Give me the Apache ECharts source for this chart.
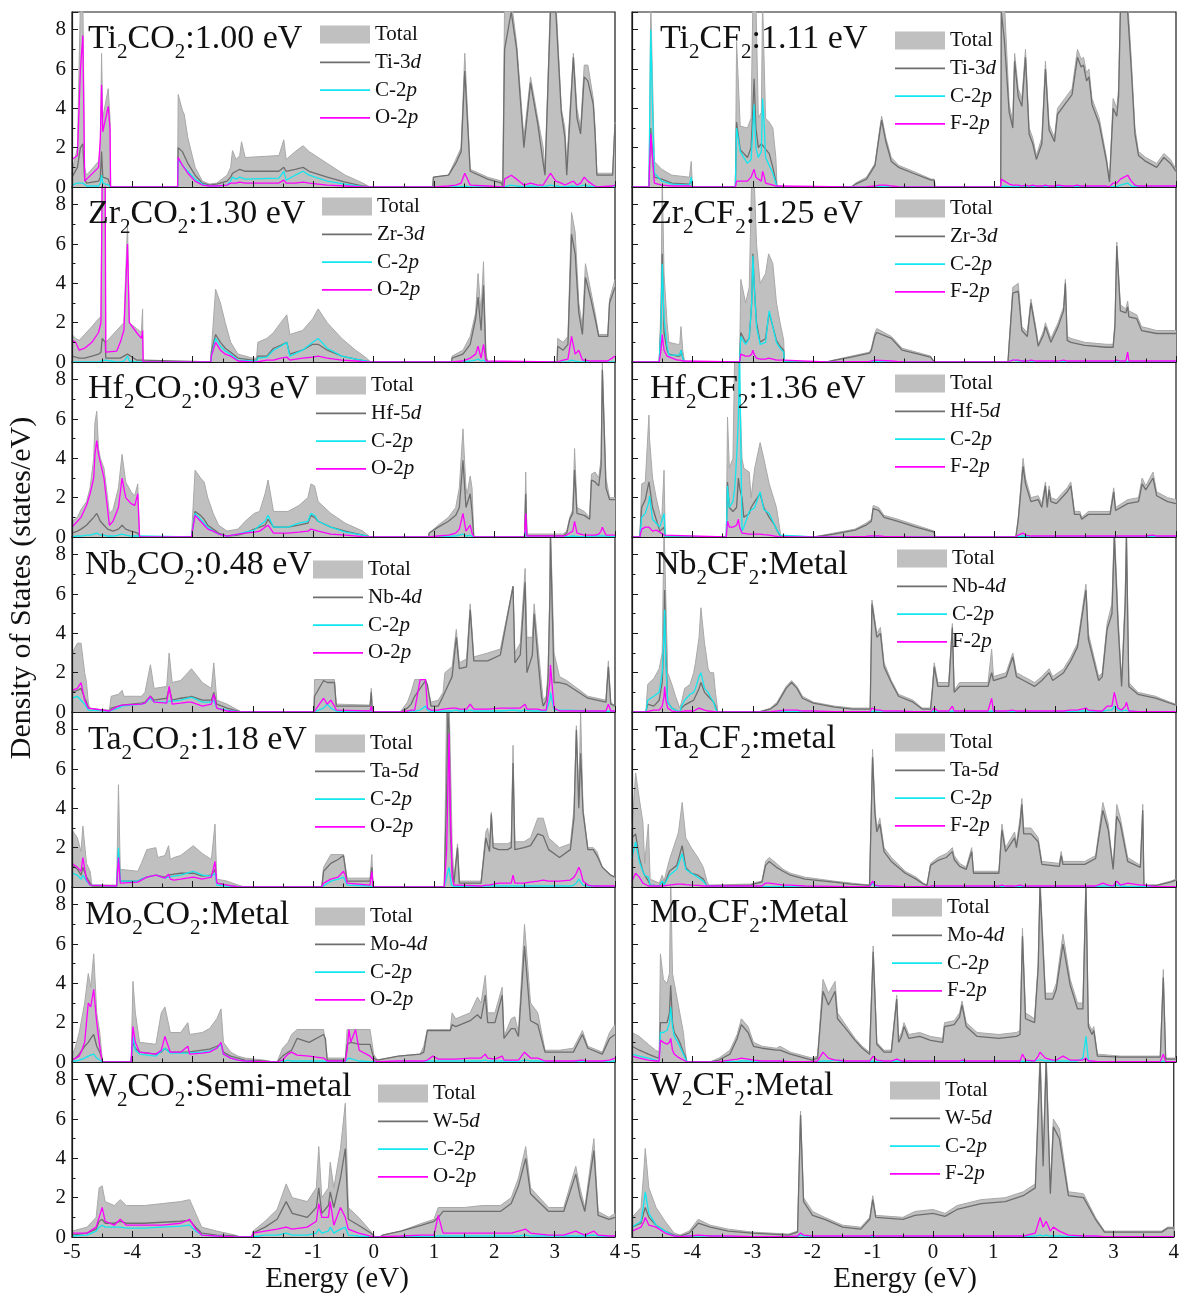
<!DOCTYPE html>
<html><head><meta charset="utf-8">
<script src="https://cdn.jsdelivr.net/npm/echarts@6/dist/echarts.min.js"></script>
<style>html,body{margin:0;padding:0;background:#fff}#c{width:1182px;height:1294px}</style>
</head><body><div id="c"></div>
<script>
// Each row: [energy (eV), Total, metal-d, C-2p, O-2p / F-2p]
const TI2CO2 = [
[-5.00,0.8,0.5,0.1,1.4],[-4.91,2.0,1.0,0.2,1.6],[-4.86,9.5,2.0,0.2,6.0],[-4.82,9.5,2.2,0.2,7.7],[-4.79,1.0,0.4,0.1,0.3],
[-4.76,0.6,0.2,0.05,0.4],[-4.56,1.3,0.3,0.05,1.0],[-4.53,2.0,0.5,0.2,2.5],[-4.51,6.8,1.8,0.6,5.2],[-4.49,3.5,0.5,0.2,2.8],
[-4.47,3.6,0.4,0.1,2.9],[-4.40,5.0,0.4,0.1,4.1],[-4.37,3.5,0.3,0.1,3.0],[-4.36,0,0,0,0],[-3.25,0,0,0,0],
[-3.24,4.7,2.0,1.4,1.5],[-3.17,3.9,1.8,1.1,1.1],[-3.14,3.7,1.6,1.0,1.0],[-3.08,2.5,1.2,0.8,0.7],[-2.96,1.0,0.6,0.4,0.3],
[-2.84,0.3,0.2,0.15,0.1],[-2.72,0.15,0.1,0.05,0.05],[-2.60,0.2,0.15,0.05,0.05],[-2.43,0.6,0.3,0.1,0.1],[-2.37,1.0,0.5,0.3,0.2],
[-2.34,1.85,0.7,0.5,0.3],[-2.28,1.4,0.8,0.4,0.2],[-2.22,1.6,0.9,0.5,0.25],[-2.19,2.3,1.0,0.6,0.3],[-2.13,1.5,0.8,0.4,0.2],
[-1.57,1.6,0.8,0.45,0.2],[-1.49,2.4,1.0,0.8,0.35],[-1.45,1.4,0.8,0.35,0.2],[-1.30,1.8,0.9,0.6,0.2],[-1.17,2.1,1.0,0.8,0.25],
[-1.07,1.8,0.8,0.6,0.2],[-0.77,1.2,0.5,0.3,0.1],[-0.47,0.6,0.25,0.15,0.05],[-0.18,0.2,0.05,0.02,0],[-0.06,0,0,0,0],
[0.98,0,0,0,0],[0.99,0.5,0.5,0,0.05],[1.24,0.6,0.6,0,0.05],[1.36,1.4,1.2,0.02,0.1],[1.45,2.0,1.8,0.02,0.2],
[1.51,6.8,5.9,0.05,0.7],[1.60,0.9,0.8,0,0.1],[1.89,0.5,0.4,0,0.05],[2.12,0.3,0.2,0,0],[2.14,0,0,0,0],
[2.16,0,0,0,0],[2.17,9.5,7.0,0.05,0.4],[2.28,9.5,8.9,0.1,0.6],[2.37,7.3,7.0,0.05,0.4],[2.49,2.5,2.0,0.02,0.1],
[2.60,5.6,5.3,0.05,0.2],[2.72,3.5,3.2,0.02,0.1],[2.81,2.0,1.2,0,0.1],[2.84,0.8,0.6,0,0.05],[2.93,9.5,8.9,0.1,0.7],
[3.02,9.5,8.9,0.05,0.3],[3.11,4.0,3.8,0.02,0.2],[3.17,3.0,2.5,0.02,0.1],[3.20,1.2,0.6,0,0.05],[3.31,6.8,6.6,0.05,0.3],
[3.37,4.0,3.5,0.02,0.1],[3.43,3.0,2.7,0.05,0.2],[3.49,6.2,5.6,0.1,0.5],[3.55,6.2,5.4,0.05,0.3],[3.64,4.5,4.2,0.02,0.1],
[3.67,3.0,2.7,0.02,0.05],[3.70,0.7,0.6,0,0],[3.96,0.7,0.6,0,0.05],[4.00,3.3,3.2,0,0.1]];

const TI2CF2 = [
[-5.00,0,0,0,0],[-4.72,0,0,0,0],[-4.71,3.0,1.0,2.5,1.0],[-4.69,9.5,3.0,8.0,2.7],[-4.66,9.5,1.5,4.0,1.5],
[-4.63,1.3,0.5,0.7,0.2],[-4.51,0.9,0.4,0.3,0.1],[-4.34,0.6,0.2,0.15,0.05],[-4.05,0.5,0.15,0.1,0.05],[-4.02,1.3,0.3,0.5,0.1],
[-4.00,0,0,0,0],[-3.29,0,0,0,0],[-3.27,7.4,3.3,3.0,0.3],[-3.21,3.1,1.9,1.8,0.3],[-3.09,3.0,1.5,1.2,0.3],
[-3.03,3.5,2.0,1.4,0.5],[-3.00,9.5,4.0,3.0,0.6],[-2.98,9.5,5.5,4.2,0.9],[-2.95,9.5,3.0,2.0,0.5],[-2.91,3.5,2.0,1.5,0.4],
[-2.86,3.8,2.2,1.8,0.3],[-2.84,9.5,2.3,4.5,0.8],[-2.81,9.5,2.0,3.0,0.5],[-2.79,3.5,1.9,1.5,0.2],[-2.73,3.3,1.7,1.1,0.15],
[-2.67,3.0,1.0,0.7,0.1],[-2.62,1.5,0.3,0.2,0.05],[-2.60,0,0,0,0],[-1.37,0,0,0,0],[-1.30,0.2,0.15,0,0],
[-1.12,0.5,0.4,0,0.02],[-0.98,1.2,1.1,0.02,0.05],[-0.90,3.0,2.8,0.02,0.1],[-0.87,3.6,3.4,0.02,0.15],[-0.80,2.5,2.3,0.02,0.1],
[-0.71,1.5,1.3,0,0.05],[-0.59,1.1,1.0,0,0.02],[-0.35,0.8,0.7,0,0],[-0.05,0.4,0.35,0,0],[0.00,0.4,0.35,0,0],
[0.01,0,0,0,0],[1.10,0,0,0,0],[1.11,9.5,8.9,0.05,0.4],[1.16,9.5,7.5,0.05,0.3],[1.24,4.2,3.8,0.02,0.15],
[1.30,3.3,3.0,0.02,0.1],[1.33,6.8,6.4,0.05,0.1],[1.39,5.0,4.6,0.02,0.1],[1.45,4.5,4.1,0.02,0.05],[1.51,7.0,6.6,0.05,0.1],
[1.57,3.0,2.7,0.02,0.05],[1.63,2.5,2.2,0.02,0.1],[1.69,1.6,1.4,0.02,0.05],[1.78,2.5,2.2,0.02,0.05],[1.84,6.4,6.0,0.05,0.1],
[1.90,3.2,2.9,0.02,0.05],[1.99,2.5,2.3,0.02,0.05],[2.04,4.0,3.7,0.02,0.1],[2.16,4.5,4.2,0.02,0.05],[2.28,5.0,4.7,0.02,0.05],
[2.37,7.0,6.6,0.02,0.1],[2.43,6.5,6.1,0.02,0.05],[2.47,6.6,6.2,0.02,0.05],[2.52,5.8,5.4,0.02,0.05],[2.56,6.0,5.6,0.02,0.05],
[2.61,4.5,4.2,0.02,0.05],[2.73,3.5,3.2,0.02,0.05],[2.85,1.5,1.3,0.02,0.05],[2.90,0.3,0.25,0,0.02],[2.96,4.5,4.0,0.02,0.2],
[3.02,4.0,3.6,0.02,0.2],[3.05,5.0,4.6,0.05,0.3],[3.08,9.5,8.9,0.1,0.4],[3.20,9.5,8.9,0.2,0.6],[3.26,6.5,6.0,0.05,0.3],
[3.32,3.0,2.7,0.02,0.1],[3.38,1.8,1.6,0.02,0.05],[3.50,1.5,1.3,0.02,0.05],[3.68,1.2,1.0,0,0.05],[3.80,1.7,1.5,0,0.05],
[3.91,1.4,1.2,0,0.05],[4.00,0.9,0.8,0,0.05]];

const ZR2CO2 = [
[-5.00,1.4,0.3,0,1.1],[-4.94,1.2,0.25,0,1.0],[-4.88,1.1,0.2,0,0.6],[-4.79,1.4,0.2,0,0.7],[-4.67,1.8,0.3,0,1.0],
[-4.56,2.2,0.4,0,1.5],[-4.52,2.3,0.5,0.05,2.0],[-4.50,9.5,1.2,0.1,9.5],[-4.45,9.5,1.0,0.1,9.5],[-4.44,1.0,0.2,0,0.5],
[-4.26,1.6,0.2,0,0.55],[-4.20,1.8,0.2,0,1.0],[-4.14,2.0,0.3,0.05,1.6],[-4.08,7.0,0.4,0.3,6.0],[-4.05,2.0,0.3,0.05,2.0],
[-3.93,1.7,0.1,0,1.5],[-3.85,1.5,0.1,0,1.2],[-3.83,2.7,0.15,0,1.6],[-3.82,0,0,0,0],[-2.70,0,0,0,0],
[-2.69,0.6,0.5,0.3,0.3],[-2.62,3.7,1.4,1.2,1.0],[-2.54,3.0,1.0,0.8,0.6],[-2.46,2.0,0.7,0.55,0.4],[-2.37,1.0,0.5,0.4,0.3],
[-2.25,0.4,0.2,0.1,0.05],[-2.01,0.2,0.1,0.05,0],[-1.94,0.2,0.1,0.05,0],[-1.92,1.0,0.3,0.2,0.1],[-1.77,1.2,0.3,0.25,0.1],
[-1.66,1.5,0.7,0.6,0.1],[-1.54,2.0,0.85,0.8,0.2],[-1.44,2.4,1.0,1.0,0.25],[-1.39,1.4,0.4,0.3,0.1],[-1.18,1.6,0.6,0.6,0.2],
[-1.01,2.2,0.9,1.0,0.25],[-0.92,2.7,0.9,1.2,0.3],[-0.77,2.0,0.6,0.7,0.2],[-0.53,1.2,0.3,0.3,0.1],[-0.30,0.6,0.15,0.15,0.05],
[-0.12,0.2,0.05,0.05,0],[-0.05,0,0,0,0],[1.29,0,0,0,0],[1.30,0.3,0.2,0,0],[1.48,0.6,0.4,0.02,0.05],
[1.60,1.3,0.9,0.05,0.2],[1.69,2.5,2.2,0.1,0.4],[1.73,4.5,3.3,0.15,0.8],[1.78,2.5,1.6,0.05,0.2],[1.82,5.1,3.9,0.1,0.9],
[1.86,0.5,0.2,0,0.05],[1.89,0,0,0,0],[3.04,0,0,0,0],[3.05,1.2,0.8,0,0.1],[3.14,1.0,0.6,0,0.1],
[3.22,1.3,0.9,0.02,0.15],[3.28,7.6,6.5,0.1,1.3],[3.34,6.6,5.5,0.05,0.4],[3.40,3.0,2.5,0.02,0.6],[3.46,1.8,1.4,0,0.1],
[3.51,5.0,4.3,0.02,0.1],[3.60,3.6,3.2,0,0.05],[3.67,2.5,2.2,0,0.05],[3.73,1.4,1.3,0,0.05],[3.88,1.4,1.3,0,0.05],
[3.91,3.2,3.0,0,0.1],[4.00,4.2,3.8,0,0.3]];

const ZR2CF2 = [
[-5.00,0,0,0,0],[-4.55,0,0,0,0],[-4.52,3.0,2.0,1.8,0.6],[-4.50,9.5,5.5,5.0,1.4],[-4.47,4.5,1.5,2.2,0.6],
[-4.42,2.0,0.6,0.8,0.3],[-4.39,1.0,0.4,0.35,0.2],[-4.25,0.9,0.3,0.35,0.1],[-4.21,0.9,0.3,0.35,0.1],[-4.19,1.8,0.6,0.6,0.2],
[-4.16,0.6,0.2,0.2,0.05],[-4.13,0,0,0,0],[-3.22,0,0,0,0],[-3.20,4.2,1.5,1.3,0.4],[-3.12,3.0,1.0,0.9,0.3],
[-3.06,3.8,1.2,1.2,0.3],[-3.02,9.5,3.0,3.0,0.4],[-3.00,9.5,5.5,5.4,0.6],[-2.98,9.5,4.0,4.0,0.4],[-2.94,6.0,2.0,1.8,0.2],
[-2.88,4.0,1.0,0.9,0.15],[-2.85,4.0,1.0,0.9,0.15],[-2.79,4.5,1.2,1.0,0.15],[-2.74,5.5,2.3,2.4,0.2],[-2.73,5.4,2.5,2.6,0.2],
[-2.67,5.0,1.8,1.8,0.15],[-2.61,3.0,1.1,1.0,0.1],[-2.55,2.0,0.8,0.7,0.1],[-2.49,1.1,0.6,0.5,0.1],[-2.48,0,0,0,0],
[-1.78,0,0,0,0],[-1.66,0.1,0.08,0,0],[-1.37,0.3,0.25,0,0.02],[-1.07,0.5,0.45,0,0.03],[-1.04,0.7,0.6,0.02,0.05],
[-0.98,1.5,1.35,0.05,0.1],[-0.95,1.7,1.5,0.05,0.1],[-0.71,1.3,1.2,0.02,0.05],[-0.62,1.0,0.9,0.02,0.03],[-0.53,0.7,0.6,0,0.02],
[-0.06,0.3,0.25,0,0],[0.00,0,0,0,0],[1.22,0,0,0,0],[1.24,1.0,0.9,0.05,0.05],[1.30,3.8,3.5,0.1,0.1],
[1.39,4.0,3.6,0.05,0.1],[1.45,1.8,1.6,0.05,0.05],[1.54,1.5,1.3,0.05,0.05],[1.60,3.2,3.0,0.05,0.1],[1.69,1.6,1.4,0.02,0.05],
[1.72,0.9,0.8,0.02,0.05],[1.81,1.6,1.4,0.02,0.05],[1.84,2.0,1.8,0.02,0.05],[1.93,1.2,1.0,0.02,0.05],[2.05,2.0,1.8,0.02,0.05],
[2.14,2.8,2.6,0.02,0.1],[2.17,4.2,4.0,0.05,0.15],[2.20,1.3,1.1,0.02,0.05],[2.26,1.2,1.0,0.02,0.05],[2.49,1.0,0.85,0.02,0.05],
[2.85,0.9,0.75,0.02,0.05],[2.96,0.9,0.75,0.02,0.05],[2.99,2.0,1.8,0.02,0.05],[3.02,6.1,5.9,0.05,0.1],[3.08,2.9,2.6,0.02,0.05],
[3.17,2.7,2.5,0.02,0.05],[3.20,3.1,2.8,0.02,0.5],[3.22,2.6,2.3,0.02,0.05],[3.35,2.4,2.2,0.02,0.05],[3.43,1.8,1.6,0.02,0.05],
[3.68,1.6,1.45,0.02,0.05],[4.00,1.6,1.45,0.02,0.05]];

const HF2CO2 = [
[-5.00,0.8,0.2,0.02,0.5],[-4.91,1.0,0.3,0.05,0.8],[-4.85,1.4,0.4,0.05,1.0],[-4.76,1.8,0.6,0.1,1.6],[-4.70,2.5,0.8,0.1,2.2],
[-4.64,4.0,1.0,0.15,3.0],[-4.62,5.8,1.1,0.2,4.2],[-4.59,6.4,1.2,0.2,4.9],[-4.56,4.5,1.0,0.15,4.2],[-4.53,4.0,0.8,0.1,3.8],
[-4.47,3.5,0.6,0.1,3.0],[-4.41,2.0,0.4,0.05,1.4],[-4.38,1.2,0.3,0.05,0.6],[-4.32,1.4,0.3,0.05,0.8],[-4.23,2.5,0.4,0.1,1.5],
[-4.17,4.2,0.6,0.15,3.0],[-4.11,2.8,0.4,0.1,2.0],[-4.02,2.3,0.3,0.05,1.7],[-3.96,2.1,0.25,0.05,1.6],[-3.91,2.7,0.2,0.05,2.2],
[-3.88,0,0,0,0],[-3.02,0,0,0,0],[-2.96,3.4,1.3,1.2,1.1],[-2.87,3.0,1.1,0.9,0.8],[-2.81,2.8,0.9,0.7,0.6],
[-2.75,2.0,0.6,0.5,0.4],[-2.66,1.2,0.4,0.3,0.3],[-2.57,0.6,0.2,0.15,0.15],[-2.43,0.3,0.05,0.05,0.05],[-2.25,0.4,0.1,0.15,0.15],
[-2.13,0.8,0.2,0.25,0.2],[-1.98,1.2,0.4,0.35,0.25],[-1.89,1.3,0.5,0.6,0.3],[-1.80,2.2,0.6,0.8,0.5],[-1.75,2.9,0.9,1.1,0.6],
[-1.66,1.3,0.5,0.5,0.2],[-1.42,1.3,0.5,0.5,0.2],[-1.24,1.6,0.6,0.7,0.25],[-1.09,2.0,0.7,0.8,0.3],[-1.04,2.7,1.1,1.2,0.4],
[-0.98,2.6,1.0,1.1,0.35],[-0.92,1.8,0.8,0.8,0.3],[-0.71,1.2,0.5,0.5,0.15],[-0.47,0.7,0.3,0.25,0.1],[-0.18,0.3,0.1,0.1,0.02],
[-0.06,0,0,0,0],[0.91,0,0,0,0],[0.92,0.2,0.2,0,0],[1.07,0.6,0.5,0.02,0.05],[1.24,1.0,0.8,0.03,0.1],
[1.36,1.5,1.1,0.05,0.2],[1.42,2.5,1.5,0.1,0.4],[1.48,5.5,3.9,0.15,1.2],[1.53,2.5,1.5,0.05,0.3],[1.55,2.2,1.6,0.05,0.3],
[1.60,3.1,2.2,0.08,0.6],[1.63,2.5,1.3,0.03,0.2],[1.66,0,0,0,0],[2.50,0,0,0,0],[2.52,3.3,2.2,0.3,1.2],
[2.54,0.15,0.05,0.02,0.05],[3.14,0.15,0.05,0.02,0.05],[3.20,0.3,0.2,0.02,0.1],[3.25,1.0,0.9,0.03,0.2],[3.30,1.4,1.2,0.05,0.3],
[3.33,4.5,3.4,0.1,0.8],[3.37,1.5,1.2,0.03,0.2],[3.49,1.3,1.1,0.02,0.1],[3.58,1.0,0.9,0.02,0.1],[3.61,3.2,2.9,0.05,0.1],
[3.67,3.3,2.8,0.05,0.1],[3.73,3.0,2.6,0.05,0.15],[3.77,4.0,3.6,0.05,0.3],[3.79,8.9,8.5,0.1,0.5],[3.85,3.0,2.5,0.05,0.1],
[3.91,2.0,1.9,0.02,0.1],[4.00,2.0,1.9,0.02,0.1]];

const HF2CF2 = [
[-5.00,0,0,0,0],[-4.87,0,0,0,0],[-4.84,2.7,1.5,1.0,0.4],[-4.78,2.8,1.9,1.2,0.5],[-4.72,6.2,2.8,1.8,0.5],
[-4.71,5.0,2.6,2.1,0.6],[-4.66,3.0,1.5,0.9,0.3],[-4.60,2.0,0.9,0.7,0.35],[-4.54,1.2,0.3,0.5,0.25],[-4.51,0.8,0.3,0.4,0.2],
[-4.47,3.4,0.5,1.2,0.1],[-4.45,0,0,0,0],[-3.44,0,0,0,0],[-3.42,6.1,2.8,2.6,0.8],[-3.39,3.5,1.5,1.5,0.5],
[-3.33,4.0,1.3,1.8,0.5],[-3.30,9.5,1.4,2.5,0.5],[-3.27,9.5,1.5,4.0,0.6],[-3.24,9.5,3.0,6.0,0.9],[-3.22,9.5,2.5,9.5,0.5],
[-3.18,4.0,2.0,0.3,0.2],[-3.15,3.5,1.0,0.5,0.15],[-3.06,3.3,1.2,1.3,0.15],[-3.03,2.0,1.5,1.4,0.15],[-2.97,3.5,1.8,1.5,0.15],
[-2.88,4.8,2.2,2.3,0.15],[-2.82,4.0,1.5,1.4,0.12],[-2.73,2.7,1.0,1.2,0.1],[-2.64,1.8,0.6,0.6,0.05],[-2.61,1.5,0.4,0.4,0.05],
[-2.55,0.3,0.05,0.1,0],[-2.54,0,0,0,0],[-1.99,0,0,0,0],[-1.98,0.1,0.08,0,0],[-1.66,0.2,0.15,0,0],
[-1.31,0.4,0.35,0,0.02],[-1.13,0.7,0.6,0,0.03],[-1.04,0.9,0.8,0.02,0.05],[-1.01,1.6,1.45,0.02,0.05],[-0.92,1.5,1.35,0.02,0.05],
[-0.83,1.1,1.0,0,0.03],[-0.60,0.9,0.8,0,0.02],[-0.30,0.6,0.5,0,0],[0.00,0.3,0.25,0,0],[0.01,0,0,0,0],
[1.35,0,0,0,0],[1.39,1.0,0.85,0.02,0.1],[1.47,4.0,3.6,0.05,0.2],[1.51,3.0,2.7,0.03,0.1],[1.60,2.0,1.8,0.02,0.05],
[1.72,2.1,1.9,0.02,0.05],[1.78,1.7,1.5,0.02,0.05],[1.84,2.8,2.6,0.02,0.05],[1.87,1.7,1.5,0.02,0.05],[1.90,2.6,2.4,0.02,0.05],
[1.93,2.0,1.8,0.02,0.05],[2.02,1.9,1.7,0.02,0.05],[2.14,2.3,2.1,0.02,0.05],[2.20,2.5,2.3,0.02,0.05],[2.26,2.8,2.6,0.02,0.05],
[2.32,1.3,1.15,0.02,0.05],[2.41,1.3,1.15,0.02,0.05],[2.44,1.0,0.9,0.02,0.05],[2.55,1.3,1.15,0.02,0.05],[2.91,1.3,1.15,0.02,0.05],
[2.97,2.5,2.3,0.02,0.05],[3.00,1.5,1.35,0.02,0.05],[3.20,1.9,1.7,0.02,0.05],[3.38,2.0,1.8,0.02,0.05],[3.44,3.0,2.7,0.02,0.05],
[3.50,2.6,2.4,0.02,0.05],[3.62,3.3,3.0,0.02,0.1],[3.68,2.3,2.1,0.02,0.05],[3.86,2.0,1.8,0.02,0.05],[4.00,1.9,1.7,0.02,0.05]];

const NB2CO2 = [
[-5.00,3.0,1.0,0.7,1.1],[-4.91,3.5,1.1,0.8,1.2],[-4.85,3.5,1.2,0.6,1.5],[-4.79,2.0,0.7,0.4,0.6],[-4.76,1.5,0.5,0.3,0.4],
[-4.73,0.5,0.2,0.1,0.2],[-4.70,0.1,0.1,0.05,0.1],[-4.38,0.1,0.05,0.05,0.05],[-4.35,0.8,0.2,0.1,0.1],[-4.23,0.9,0.3,0.2,0.3],
[-4.17,1.1,0.35,0.3,0.35],[-4.14,0.8,0.4,0.3,0.3],[-3.85,0.8,0.45,0.4,0.4],[-3.79,1.0,0.5,0.45,0.45],[-3.70,2.4,0.8,0.7,0.8],
[-3.64,1.2,0.6,0.5,0.5],[-3.43,1.3,0.7,0.5,0.45],[-3.39,3.0,1.2,0.55,1.3],[-3.34,1.5,0.6,0.55,0.4],[-3.20,1.6,0.7,0.6,0.45],
[-3.08,2.0,0.75,0.7,0.5],[-3.02,2.2,0.8,0.75,0.5],[-2.84,1.5,0.6,0.5,0.3],[-2.69,1.2,0.6,0.5,0.4],[-2.65,2.5,1.0,0.6,0.9],
[-2.60,0.6,0.4,0.2,0.2],[-2.43,0.4,0.2,0.1,0.05],[-2.25,0.1,0.05,0.02,0],[-2.19,0,0,0,0],[-0.99,0,0,0,0],
[-0.98,1.65,0.8,0.05,0.05],[-0.83,1.65,1.6,0.2,0.7],[-0.77,1.65,1.5,0.4,0.4],[-0.71,1.65,1.5,0.2,0.6],[-0.65,1.65,1.5,0.1,0.3],
[-0.62,0.4,0.3,0.05,0.1],[-0.59,0.35,0.3,0.02,0.05],[-0.06,0.35,0.3,0.02,0.05],[-0.04,1.2,1.0,0.05,0.3],[-0.02,0,0,0,0],
[0.44,0,0,0,0],[0.56,0.5,0.2,0.02,0.05],[0.62,1.0,0.4,0.05,0.1],[0.68,1.65,0.8,0.05,0.1],[0.77,1.65,1.2,0.1,1.65],
[0.86,1.65,1.6,0.3,1.65],[0.89,1.65,1.4,0.1,0.2],[0.95,0.5,0.3,0.02,0.1],[0.98,0.4,0.3,0.02,0.1],[1.07,0.6,0.3,0.02,0.1],
[1.15,1.0,0.8,0.05,0.15],[1.18,2.0,1.0,0.05,0.2],[1.30,2.3,1.8,0.05,0.2],[1.37,4.2,3.8,0.1,0.2],[1.42,2.5,2.2,0.05,0.15],
[1.54,2.7,2.3,0.05,0.15],[1.60,5.5,5.2,0.1,0.4],[1.66,2.8,2.6,0.05,0.15],[1.89,3.0,2.6,0.05,0.15],[2.10,3.2,2.9,0.05,0.2],
[2.31,6.4,6.4,0.1,0.2],[2.34,3.0,2.5,0.05,0.15],[2.43,3.5,2.9,0.05,0.2],[2.51,7.3,6.6,0.1,0.4],[2.54,3.8,2.0,0.05,0.15],
[2.63,3.8,2.9,0.05,0.15],[2.66,5.5,5.0,0.05,0.2],[2.72,3.5,2.8,0.05,0.15],[2.78,1.5,0.8,0.05,0.1],[2.81,0.6,0.3,0.05,0.1],
[2.86,0.8,0.6,0.05,0.1],[2.89,2.0,1.6,0.1,0.2],[2.92,6.0,5.8,0.6,1.5],[2.93,9.5,8.9,1.0,2.4],[2.99,3.0,1.5,0.1,0.2],
[3.08,1.8,1.5,0.1,0.05],[3.20,1.6,1.4,0.1,0.05],[3.55,0.8,0.7,0.05,0.05],[3.85,0.6,0.5,0.02,0.05],[3.89,2.6,2.3,0.05,0.4],
[3.93,0.5,0.4,0.02,0.05],[4.00,0.3,0.3,0.02,0.05]];

const NB2CF2 = [
[-5.00,0,0,0,0],[-4.77,0,0,0,0],[-4.74,1.4,0.4,0.6,0.1],[-4.64,1.7,0.3,0.8,0.1],[-4.55,2.2,0.6,1.0,0.1],
[-4.50,3.0,1.5,2.0,0.3],[-4.47,9.5,4.0,4.0,0.8],[-4.46,9.5,6.2,5.2,1.3],[-4.44,9.5,3.0,2.5,0.6],[-4.41,2.0,0.5,0.5,0.2],
[-4.34,1.4,0.2,0.2,0.05],[-4.28,0.8,0.1,0.1,0.02],[-4.21,0.2,0,0,0],[-4.18,0.5,0.2,0.3,0.02],[-4.13,1.2,0.35,0.6,0.05],
[-4.04,1.4,0.5,0.9,0.05],[-3.98,2.0,0.6,1.0,0.05],[-3.95,2.5,0.7,1.2,0.1],[-3.89,3.8,1.2,1.8,0.2],[-3.86,5.3,1.5,2.0,0.3],
[-3.80,3.5,1.0,1.2,0.1],[-3.74,2.2,0.8,1.0,0.05],[-3.71,2.0,0.7,0.8,0.05],[-3.65,2.0,0.5,0.5,0.02],[-3.62,1.0,0.3,0.2,0],
[-3.59,0.3,0,0,0],[-3.58,0,0,0,0],[-2.90,0,0,0,0],[-2.89,0.1,0.08,0,0],[-2.71,0.2,0.15,0,0.02],
[-2.60,0.5,0.4,0.02,0.05],[-2.45,1.3,1.2,0.02,0.1],[-2.36,1.6,1.5,0.02,0.1],[-2.27,1.3,1.2,0.02,0.1],[-2.18,0.8,0.7,0.02,0.05],
[-2.00,0.5,0.45,0,0.05],[-1.65,0.3,0.25,0,0.02],[-1.35,0.2,0.15,0,0.02],[-1.06,0.2,0.15,0,0.02],[-1.03,5.7,5.5,0.1,0.2],
[-0.95,4.0,3.8,0.05,0.1],[-0.89,4.3,4.0,0.05,0.1],[-0.83,2.5,2.3,0.02,0.05],[-0.71,1.6,1.5,0.02,0.05],[-0.59,0.9,0.8,0.02,0.05],
[-0.35,0.6,0.5,0,0.02],[-0.20,0.2,0.15,0,0.02],[-0.06,0.2,0.15,0,0.02],[-0.03,1.3,1.1,0.02,0.05],[0.00,2.5,2.3,0.05,0.2],
[0.06,1.5,1.3,0.02,0.05],[0.24,1.5,1.3,0.02,0.05],[0.30,4.5,4.3,0.05,0.3],[0.33,1.1,1.0,0.02,0.05],[0.42,1.5,1.3,0.02,0.05],
[0.89,1.5,1.3,0.02,0.05],[0.95,3.2,2.0,0.05,0.7],[0.98,1.8,1.6,0.02,0.05],[1.19,2.0,1.8,0.02,0.05],[1.30,3.0,2.8,0.02,0.1],
[1.36,2.0,1.8,0.02,0.05],[1.48,1.8,1.6,0.02,0.05],[1.66,1.5,1.3,0.02,0.05],[1.78,1.8,1.6,0.02,0.05],[1.90,2.2,2.0,0.02,0.05],
[1.96,1.8,1.6,0.02,0.05],[2.14,2.2,2.0,0.02,0.05],[2.26,2.8,2.6,0.02,0.1],[2.37,3.5,3.3,0.05,0.1],[2.51,6.5,6.2,0.05,0.2],
[2.55,4.0,3.7,0.05,0.1],[2.72,1.8,1.6,0.02,0.05],[2.78,2.0,1.8,0.02,0.05],[2.86,4.5,4.2,0.1,0.3],[2.94,5.5,5.0,0.1,0.3],
[2.98,9.5,8.9,0.3,1.0],[3.04,5.0,4.5,0.1,0.2],[3.10,1.5,1.3,0.05,0.1],[3.16,6.0,5.5,0.1,0.3],[3.18,9.5,8.9,0.2,0.5],
[3.22,1.5,1.3,0.05,0.05],[3.37,1.0,0.9,0.02,0.02],[3.66,0.8,0.7,0,0.02],[3.90,0.5,0.45,0,0.02],[4.00,0.4,0.35,0,0.02]];

const TA2CO2 = [
[-5.00,2.9,1.1,0.7,1.2],[-4.91,2.5,0.9,0.6,1.0],[-4.85,1.8,0.6,0.4,0.8],[-4.82,3.1,1.0,0.6,1.5],[-4.76,1.2,0.5,0.3,0.4],
[-4.70,0.8,0.2,0.1,0.1],[-4.67,0.1,0.05,0.05,0.05],[-4.26,0.1,0.05,0.05,0.05],[-4.23,5.2,1.8,2.0,1.5],[-4.20,0.9,0.3,0.3,0.2],
[-3.91,0.8,0.3,0.3,0.25],[-3.85,1.2,0.4,0.4,0.35],[-3.76,1.9,0.5,0.5,0.5],[-3.61,2.0,0.6,0.6,0.6],[-3.58,1.5,0.55,0.5,0.5],
[-3.46,1.6,0.5,0.45,0.45],[-3.40,2.1,0.6,0.5,0.65],[-3.37,1.4,0.6,0.5,0.4],[-3.31,1.5,0.65,0.55,0.35],[-3.20,1.6,0.7,0.6,0.4],
[-2.99,2.1,0.7,0.8,0.5],[-2.84,1.7,0.55,0.6,0.4],[-2.69,1.4,0.6,0.55,0.5],[-2.63,3.2,0.9,0.7,1.3],[-2.60,0.4,0.2,0.1,0.2],
[-2.43,0.3,0.1,0.05,0.1],[-2.25,0.1,0.02,0.02,0],[-2.13,0,0,0,0],[-0.86,0,0,0,0],[-0.83,1.0,0.8,0.1,0.2],
[-0.71,1.65,1.2,0.3,0.4],[-0.59,1.65,1.4,0.4,0.5],[-0.50,1.65,1.6,0.5,0.8],[-0.47,1.65,1.5,0.3,0.6],[-0.44,0.45,0.3,0.1,0.2],
[-0.06,0.45,0.3,0.05,0.1],[-0.03,1.65,1.0,0.1,0.8],[-0.01,0,0,0,0],[1.17,0,0,0,0],[1.21,9.5,5.0,0.5,1.9],
[1.23,9.5,8.9,0.8,5.0],[1.25,9.5,8.0,1.0,7.8],[1.27,9.5,3.0,0.5,4.0],[1.29,4.0,1.5,0.1,2.0],[1.30,2.2,1.0,0.05,0.5],
[1.33,0.4,0.2,0.02,0.1],[1.39,2.2,2.0,0.05,0.1],[1.42,0.3,0.2,0.02,0.05],[1.78,0.3,0.2,0.02,0.05],[1.86,2.8,2.5,0.05,0.1],
[1.89,3.0,2.4,0.05,0.1],[1.92,2.2,1.8,0.05,0.1],[1.95,3.8,3.7,0.05,0.15],[1.98,2.2,2.0,0.05,0.15],[2.07,2.2,1.9,0.05,0.2],
[2.22,2.2,1.9,0.05,0.2],[2.28,2.3,2.0,0.05,0.2],[2.31,7.2,6.3,0.1,0.6],[2.34,2.3,1.9,0.05,0.2],[2.49,2.3,2.0,0.05,0.2],
[2.60,2.5,2.1,0.05,0.25],[2.72,3.5,2.7,0.05,0.3],[2.81,3.5,2.6,0.05,0.35],[2.90,2.5,1.9,0.05,0.3],[3.08,2.0,1.5,0.05,0.3],
[3.26,2.2,1.9,0.05,0.35],[3.32,4.0,3.5,0.1,0.5],[3.36,8.2,8.0,0.2,0.7],[3.40,4.5,4.0,0.4,1.0],[3.43,8.9,6.8,0.3,0.8],
[3.47,4.0,3.8,0.1,0.3],[3.55,2.0,1.9,0.05,0.1],[3.64,2.0,1.9,0.05,0.05],[3.70,1.8,1.6,0.05,0.05],[3.79,1.0,1.0,0.02,0.05],
[3.93,0.6,0.6,0.02,0.05],[4.00,0.5,0.5,0.02,0.05]];

const TA2CF2 = [
[-5.00,3.0,2.5,1.5,0.3],[-4.94,5.8,2.7,2.3,0.7],[-4.88,4.5,1.5,1.3,0.5],[-4.82,3.3,0.8,0.8,0.2],[-4.79,1.2,0.6,0.6,0.1],
[-4.73,3.2,0.3,0.5,0.05],[-4.70,0.4,0.1,0.1,0.05],[-4.55,0.2,0.05,0.05,0.05],[-4.50,0.6,0.3,0.3,0.05],[-4.47,0.3,0.1,0.1,0.05],
[-4.38,1.4,0.8,0.6,0.1],[-4.26,2.5,1.1,0.9,0.15],[-4.23,2.8,1.2,1.0,0.15],[-4.17,4.3,2.1,1.7,0.15],[-4.11,2.5,1.0,0.9,0.12],
[-4.02,2.0,0.7,0.7,0.1],[-3.91,1.5,0.6,0.5,0.08],[-3.82,1.0,0.4,0.3,0.05],[-3.76,0.3,0.05,0.05,0.05],[-3.73,0.1,0.05,0,0.02],
[-3.03,0.15,0.1,0,0.05],[-2.99,0.2,0.15,0,0.05],[-2.85,0.3,0.25,0,0.05],[-2.79,1.3,1.1,0.02,0.2],[-2.73,1.5,1.3,0.02,0.2],
[-2.61,1.2,1.0,0.02,0.15],[-2.50,0.9,0.8,0.02,0.1],[-2.38,0.7,0.6,0.02,0.1],[-2.14,0.5,0.4,0,0.05],[-1.66,0.3,0.25,0,0.03],
[-1.37,0.2,0.15,0,0.02],[-1.07,0.1,0.08,0,0.02],[-1.02,7.0,6.6,0.2,0.3],[-0.98,4.0,3.7,0.05,0.1],[-0.95,3.0,2.8,0.05,0.05],
[-0.90,3.5,3.2,0.05,0.05],[-0.83,2.0,1.8,0.02,0.05],[-0.71,1.5,1.3,0.02,0.05],[-0.48,0.8,0.7,0,0.02],[-0.30,0.5,0.4,0,0.02],
[-0.18,0.2,0.15,0,0.02],[-0.12,0.1,0.08,0,0.02],[-0.06,1.2,1.1,0.02,0.05],[0.06,1.5,1.35,0.02,0.05],[0.20,1.7,1.5,0.02,0.05],
[0.30,2.0,1.8,0.02,0.05],[0.33,1.6,1.4,0.02,0.05],[0.42,1.2,1.05,0.02,0.05],[0.53,1.0,0.9,0.02,0.05],[0.62,2.0,1.8,0.02,0.05],
[0.65,0.8,0.7,0.02,0.05],[1.07,0.8,0.7,0.02,0.05],[1.12,3.2,2.9,0.02,0.1],[1.18,2.0,1.8,0.02,0.05],[1.33,2.8,2.5,0.02,0.05],
[1.36,2.2,2.0,0.02,0.05],[1.42,3.5,3.2,0.02,0.1],[1.45,4.5,4.2,0.02,0.1],[1.48,3.0,2.7,0.02,0.05],[1.60,3.0,2.7,0.02,0.05],
[1.72,2.5,2.3,0.02,0.05],[1.78,1.3,1.15,0.02,0.05],[2.07,1.2,1.05,0.02,0.05],[2.10,1.8,1.6,0.02,0.05],[2.13,1.3,1.15,0.02,0.05],
[2.49,1.3,1.15,0.02,0.05],[2.67,1.6,1.45,0.02,0.05],[2.79,4.3,3.9,0.05,0.2],[2.88,3.2,2.9,0.05,0.1],[2.96,1.0,0.9,0.02,0.05],
[3.02,4.2,3.6,0.1,0.3],[3.08,3.5,3.2,0.05,0.1],[3.20,1.5,1.3,0.02,0.2],[3.41,1.1,1.0,0.02,0.1],[3.45,4.2,3.9,0.05,0.1],
[3.47,0.1,0.08,0,0.02],[3.68,0.1,0.08,0,0.02],[3.91,0.3,0.25,0,0.02],[4.00,0.4,0.35,0,0.02]];

const MO2CO2 = [
[-5.00,0.3,0.1,0.05,0.1],[-4.94,0.8,0.2,0.05,0.2],[-4.88,1.5,0.4,0.1,0.3],[-4.85,2.0,0.5,0.1,0.5],[-4.79,3.0,0.8,0.2,1.0],
[-4.73,4.5,1.0,0.3,3.0],[-4.69,3.8,1.2,0.35,2.8],[-4.64,5.5,1.4,0.4,3.7],[-4.59,2.5,0.8,0.2,2.0],[-4.54,1.5,0.5,0.1,0.8],
[-4.51,0.5,0.2,0.05,0.2],[-4.49,0,0,0,0],[-4.02,0,0,0,0],[-3.99,4.1,1.0,1.3,1.8],[-3.95,2.5,0.7,0.6,1.0],
[-3.88,1.0,0.5,0.4,0.5],[-3.61,0.9,0.4,0.3,0.4],[-3.52,2.5,0.5,0.55,0.6],[-3.46,2.8,0.7,0.7,1.3],[-3.43,2.9,0.8,0.7,1.3],
[-3.37,1.5,0.5,0.45,0.5],[-3.20,1.5,0.5,0.45,0.5],[-3.08,2.0,0.5,0.45,0.8],[-3.05,1.4,0.5,0.45,0.4],[-2.84,1.5,0.6,0.5,0.45],
[-2.72,1.7,0.65,0.55,0.5],[-2.60,2.2,0.8,0.7,0.7],[-2.53,2.7,0.9,0.9,1.0],[-2.49,1.0,0.5,0.4,0.4],[-2.37,0.5,0.3,0.2,0.2],
[-2.25,0.3,0.2,0.1,0.1],[-2.13,0.2,0.1,0.05,0.05],[-1.83,0.1,0.05,0,0.02],[-1.66,0,0,0,0],[-1.60,0,0,0,0],
[-1.51,0.7,0.3,0.02,0.1],[-1.42,1.0,0.5,0.1,0.4],[-1.36,1.4,0.6,0.05,0.5],[-1.27,1.65,1.2,0.05,0.35],[-1.07,1.65,1.0,0.05,0.3],
[-0.83,1.65,1.4,0.05,0.2],[-0.80,1.65,1.2,0.02,0.2],[-0.77,0.2,0.1,0.02,0.05],[-0.47,0.2,0.1,0.02,0.05],[-0.44,1.65,0.9,0.1,0.6],
[-0.41,1.65,1.0,0.2,1.65],[-0.38,1.65,1.0,0.3,1.0],[-0.30,1.65,0.95,0.1,1.65],[-0.24,1.65,0.9,0.05,0.6],[-0.06,1.65,0.9,0.02,0.3],
[0.00,0.4,0.2,0.02,0.1],[0.06,0.1,0.1,0,0.02],[0.41,0.3,0.3,0,0.05],[0.77,0.4,0.4,0,0.05],[0.83,0.8,0.5,0.02,0.05],
[0.89,1.65,1.6,0.05,0.1],[0.98,1.65,1.6,0.05,0.3],[1.07,1.65,1.6,0.05,0.15],[1.27,1.65,1.6,0.05,0.15],[1.30,2.5,1.9,0.05,0.15],
[1.36,2.2,1.8,0.05,0.15],[1.60,2.5,2.1,0.05,0.2],[1.72,3.3,2.4,0.05,0.2],[1.78,3.0,2.2,0.05,0.2],[1.85,4.4,3.4,0.1,0.4],
[1.89,2.5,2.0,0.05,0.2],[2.01,2.5,2.0,0.05,0.15],[2.13,3.8,3.4,0.05,0.3],[2.16,1.3,1.2,0.02,0.1],[2.28,2.2,1.7,0.02,0.1],
[2.34,2.3,1.7,0.02,0.1],[2.40,1.5,1.3,0.02,0.1],[2.50,7.0,5.9,0.1,0.5],[2.60,3.0,2.1,0.05,0.2],[2.72,2.5,1.9,0.05,0.2],
[2.84,0.6,0.5,0.02,0.05],[3.08,0.6,0.5,0.02,0.05],[3.31,0.7,0.5,0.02,0.05],[3.46,1.6,1.4,0.05,0.1],[3.55,0.8,0.7,0.02,0.05],
[3.79,0.5,0.4,0.02,0.05],[3.91,1.5,1.2,0.02,0.1],[4.00,1.9,1.4,0.05,0.2]];

const MO2CF2 = [
[-5.00,1.5,0.8,0.4,0.3],[-4.88,1.3,0.6,0.3,0.2],[-4.73,0.9,0.4,0.2,0.1],[-4.61,0.6,0.25,0.1,0.05],[-4.55,0.5,0.2,0.05,0.05],
[-4.53,5.5,2.0,1.5,1.1],[-4.48,4.2,2.0,1.5,1.0],[-4.42,4.0,2.0,1.6,0.9],[-4.38,4.5,2.5,2.0,1.0],[-4.36,9.5,3.9,2.8,1.2],
[-4.33,4.5,2.0,1.8,0.6],[-4.30,4.0,1.5,1.3,0.4],[-4.24,3.0,1.2,1.0,0.25],[-4.21,2.5,1.0,0.8,0.2],[-4.15,1.5,0.5,0.4,0.1],
[-4.12,0.6,0.3,0.2,0.05],[-4.09,0,0,0,0],[-3.71,0,0,0,0],[-3.56,0.2,0.1,0,0.02],[-3.38,0.6,0.4,0.02,0.1],
[-3.26,1.4,1.2,0.02,0.15],[-3.19,2.2,1.9,0.05,0.2],[-3.08,1.8,1.5,0.05,0.15],[-2.99,1.0,0.8,0.02,0.1],[-2.85,0.8,0.7,0.02,0.05],
[-2.61,0.7,0.6,0.02,0.05],[-2.55,0.8,0.6,0.02,0.05],[-2.38,0.5,0.4,0,0.02],[-2.02,0.2,0.1,0,0.02],[-1.93,0.3,0.2,0.02,0.05],
[-1.84,4.2,3.6,0.05,0.5],[-1.75,3.5,2.9,0.05,0.2],[-1.64,4.1,3.6,0.1,0.1],[-1.60,2.5,2.2,0.05,0.1],[-1.49,2.0,1.8,0.02,0.05],
[-1.31,1.2,1.1,0.02,0.05],[-1.19,0.8,0.7,0.02,0.05],[-1.07,0.5,0.4,0.02,0.05],[-1.01,5.9,5.6,0.05,0.3],[-0.95,1.0,0.9,0.02,0.1],
[-0.83,0.6,0.5,0.02,0.05],[-0.71,0.6,0.5,0.02,0.05],[-0.62,3.4,3.2,0.05,0.15],[-0.59,1.2,1.0,0.02,0.05],[-0.54,1.5,1.3,0.02,0.05],
[-0.50,2.0,1.8,0.02,0.05],[-0.42,1.4,1.2,0.02,0.05],[-0.24,1.5,1.3,0.02,0.05],[-0.06,1.3,1.1,0.02,0.05],[0.14,1.2,1.0,0.02,0.05],
[0.17,2.0,1.8,0.02,0.05],[0.33,2.1,1.9,0.02,0.05],[0.42,2.5,2.3,0.02,0.05],[0.46,3.1,2.9,0.02,0.1],[0.53,2.0,1.8,0.02,0.05],
[0.71,1.5,1.3,0.02,0.05],[1.07,1.4,1.2,0.02,0.05],[1.36,1.5,1.3,0.02,0.05],[1.42,1.6,1.4,0.02,0.05],[1.46,6.8,6.4,0.05,0.4],
[1.51,2.5,2.2,0.02,0.1],[1.66,2.2,2.0,0.05,0.05],[1.72,5.0,4.8,0.1,0.3],[1.75,9.5,8.9,0.1,0.5],[1.78,9.5,7.0,0.1,0.4],
[1.84,3.5,3.2,0.05,0.2],[1.96,3.5,3.2,0.05,0.1],[2.02,4.0,3.7,0.05,0.1],[2.13,6.5,6.0,0.05,0.3],[2.25,4.2,3.9,0.05,0.1],
[2.37,3.0,2.7,0.05,0.1],[2.46,3.0,2.7,0.2,0.1],[2.51,9.5,8.9,1.3,0.2],[2.55,2.0,1.8,0.1,0.05],[2.61,1.6,1.4,0.02,0.05],
[2.64,1.8,1.6,0.02,0.05],[2.70,0.4,0.3,0.02,0.02],[3.08,0.3,0.25,0,0.02],[3.74,0.3,0.25,0,0.02],[3.79,4.7,4.3,0.05,0.4],
[3.83,0.2,0.15,0,0.02],[4.00,0.2,0.15,0,0.02]];

const W2CO2 = [
[-5.00,0.3,0.1,0.05,0.2],[-4.75,0.5,0.2,0.1,0.2],[-4.60,1.0,0.4,0.3,0.5],[-4.55,2.5,0.8,0.5,1.0],[-4.50,2.6,0.9,0.6,1.5],
[-4.45,1.8,0.7,0.5,0.8],[-4.30,1.6,0.7,0.5,0.6],[-4.20,1.9,0.8,0.5,0.9],[-4.10,1.6,0.7,0.45,0.6],[-3.80,1.6,0.7,0.45,0.6],
[-3.50,1.7,0.75,0.5,0.6],[-3.20,1.8,0.8,0.55,0.7],[-3.05,1.9,0.85,0.6,0.9],[-2.95,1.2,0.5,0.3,0.4],[-2.85,0.5,0.2,0.1,0.1],
[-2.60,0.3,0.1,0.05,0.05],[-2.30,0.1,0.05,0,0],[-2.20,0,0,0,0],[-2.02,0,0,0,0],[-2.00,0.3,0.2,0.05,0.2],
[-1.80,0.8,0.5,0.1,0.3],[-1.60,1.4,0.9,0.1,0.4],[-1.45,2.7,1.8,0.2,0.5],[-1.35,2.0,1.2,0.1,0.4],[-1.10,1.8,1.0,0.1,0.5],
[-0.95,2.5,1.5,0.2,0.8],[-0.91,4.6,2.5,0.4,1.7],[-0.86,2.0,1.2,0.2,1.0],[-0.75,2.5,1.6,0.3,1.0],[-0.72,3.8,2.3,0.5,1.8],
[-0.66,2.5,1.5,0.2,0.6],[-0.55,4.5,3.0,0.4,1.5],[-0.47,6.8,4.5,0.5,1.0],[-0.42,1.5,0.9,0.1,0.4],[-0.25,1.0,0.6,0.05,0.2],
[-0.05,0.3,0.2,0,0.05],[0.02,0,0,0,0],[0.10,0,0,0,0],[0.15,0.1,0.1,0,0.02],[0.45,0.3,0.3,0.02,0.05],
[0.80,0.7,0.6,0.02,0.1],[1.00,0.9,0.8,0.02,0.1],[1.07,1.5,1.0,0.05,1.1],[1.15,1.5,1.3,0.05,0.2],[1.50,1.5,1.3,0.05,0.2],
[1.80,1.6,1.3,0.05,0.2],[2.10,1.6,1.3,0.05,0.2],[2.28,2.0,1.7,0.05,0.2],[2.40,3.0,2.6,0.05,0.3],[2.52,4.6,4.0,0.1,0.4],
[2.60,2.5,2.2,0.05,0.2],[2.90,1.5,1.3,0.05,0.1],[3.15,1.5,1.3,0.05,0.1],[3.35,3.6,3.2,0.05,0.3],[3.42,2.5,2.1,0.05,0.2],
[3.50,1.5,1.3,0.05,0.1],[3.65,5.0,4.4,0.1,0.3],[3.72,1.3,1.1,0.05,0.1],[3.90,1.0,0.9,0.02,0.05],[4.00,1.2,1.0,0.02,0.05]];

const W2CF2 = [
[-5.00,1.0,0.5,0.5,0.3],[-4.85,1.5,0.7,0.8,0.5],[-4.80,3.5,1.3,1.8,0.8],[-4.78,4.5,1.5,2.3,1.0],[-4.72,2.5,1.0,1.2,0.6],
[-4.60,1.5,0.6,0.6,0.5],[-4.45,0.8,0.3,0.3,0.2],[-4.30,0.2,0.1,0.05,0.05],[-4.20,0.1,0.05,0.02,0.02],[-4.05,0.3,0.2,0.05,0.05],
[-3.90,0.9,0.7,0.05,0.1],[-3.70,0.6,0.5,0.05,0.05],[-3.40,0.4,0.3,0.02,0.05],[-3.00,0.25,0.2,0.02,0.02],[-2.40,0.15,0.1,0.02,0.02],
[-2.25,0.3,0.25,0.02,0.05],[-2.20,6.4,6.2,0.1,0.2],[-2.15,2.0,1.8,0.05,0.1],[-2.00,1.3,1.1,0.02,0.05],[-1.80,1.0,0.9,0.02,0.05],
[-1.50,0.6,0.5,0.02,0.05],[-1.20,0.5,0.4,0.02,0.05],[-1.05,1.0,0.9,0.02,0.05],[-1.00,2.1,1.9,0.02,0.1],[-0.95,1.1,1.0,0.02,0.05],
[-0.50,1.0,0.9,0.02,0.05],[-0.30,1.3,1.1,0.02,0.05],[0.00,1.4,1.2,0.02,0.05],[0.20,1.2,1.05,0.02,0.05],[0.40,1.6,1.4,0.02,0.05],
[0.80,1.9,1.7,0.02,0.05],[1.20,2.0,1.8,0.02,0.05],[1.50,2.3,2.1,0.02,0.05],[1.70,2.7,2.5,0.05,0.2],[1.78,9.5,8.9,0.1,1.0],
[1.83,4.0,3.6,0.05,0.5],[1.88,9.5,8.9,0.1,0.8],[1.95,2.5,2.2,0.05,0.3],[2.00,6.0,5.6,0.05,0.5],[2.10,5.5,5.0,0.05,0.3],
[2.25,2.3,2.1,0.02,0.1],[2.50,2.2,2.0,0.02,0.05],[2.70,1.0,0.9,0.02,0.05],[2.85,0.3,0.25,0,0.02],[3.80,0.3,0.25,0,0.02],
[3.90,0.5,0.45,0,0.02],[4.00,0.5,0.45,0,0.02]];

const FONT = '"Liberation Serif","Times New Roman",Times,serif';
const COL_LEFT = [72, 632], COL_W = [543, 544];
const ROW_TOP0 = 12, ROW_H = 175;
const COLORS = {total:'#c0c0c0', totalEdge:'#a8a8a8', d:'#6e6e6e', c:'#12e6ee', x:'#ff00ff'};
const LINE_ICON = 'path://M0,0L50,0L50,1.8L0,1.8Z';

const PANELS = [
 {data:TI2CO2, title:'Ti{s|2}CO{s|2}:1.00 eV', d:'Ti-3d', x:'O-2p', col:0,row:0, tl:[88,15],  lg:[320,24]},
 {data:TI2CF2, title:'Ti{s|2}CF{s|2}:1.11 eV', d:'Ti-3d', x:'F-2p', col:1,row:0, tl:[660,15], lg:[895,30]},
 {data:ZR2CO2, title:'Zr{s|2}CO{s|2}:1.30 eV', d:'Zr-3d', x:'O-2p', col:0,row:1, tl:[88,190], lg:[322,196]},
 {data:ZR2CF2, title:'Zr{s|2}CF{s|2}:1.25 eV', d:'Zr-3d', x:'F-2p', col:1,row:1, tl:[651,190],lg:[895,198]},
 {data:HF2CO2, title:'Hf{s|2}CO{s|2}:0.93 eV', d:'Hf-5d', x:'O-2p', col:0,row:2, tl:[88,365], lg:[316,375]},
 {data:HF2CF2, title:'Hf{s|2}CF{s|2}:1.36 eV', d:'Hf-5d', x:'F-2p', col:1,row:2, tl:[650,365],lg:[895,373]},
 {data:NB2CO2, title:'Nb{s|2}CO{s|2}:0.48 eV', d:'Nb-4d', x:'O-2p', col:0,row:3, tl:[85,541], lg:[313,559]},
 {data:NB2CF2, title:'Nb{s|2}CF{s|2}:Metal',   d:'Nb-4d', x:'F-2p', col:1,row:3, tl:[655,541],lg:[897,548]},
 {data:TA2CO2, title:'Ta{s|2}CO{s|2}:1.18 eV', d:'Ta-5d', x:'O-2p', col:0,row:4, tl:[88,716], lg:[315,733]},
 {data:TA2CF2, title:'Ta{s|2}CF{s|2}:metal',   d:'Ta-5d', x:'F-2p', col:1,row:4, tl:[655,715],lg:[895,732]},
 {data:MO2CO2, title:'Mo{s|2}CO{s|2}:Metal',   d:'Mo-4d', x:'O-2p', col:0,row:5, tl:[85,891], lg:[315,906]},
 {data:MO2CF2, title:'Mo{s|2}CF{s|2}:Metal',   d:'Mo-4d', x:'F-2p', col:1,row:5, tl:[650,889],lg:[892,897]},
 {data:W2CO2,  title:'W{s|2}CO{s|2}:Semi-metal', d:'W-5d', x:'O-2p', col:0,row:6, tl:[85,1063], lg:[378,1083]},
 {data:W2CF2,  title:'W{s|2}CF{s|2}:Metal',    d:'W-5d', x:'F-2p', col:1,row:6, tl:[650,1062],lg:[890,1080]}
];

const option = {animation:false, backgroundColor:'#fff', grid:[], xAxis:[], yAxis:[], series:[], legend:[], title:[], graphic:[]};
const axisCol = '#1a1a1a';
PANELS.forEach((p, i) => {
  option.grid.push({left:COL_LEFT[p.col], top:ROW_TOP0 + p.row*ROW_H, width:COL_W[p.col], height:ROW_H,
    show:true, borderColor:axisCol, borderWidth:1.2, backgroundColor:'transparent'});
  option.xAxis.push({gridIndex:i, type:'value', min:-5, max:4, interval:1, z:5,
    axisLine:{onZero:false, lineStyle:{color:axisCol, width:1.2}},
    axisTick:{inside:true, length:6, lineStyle:{color:axisCol, width:1}},
    minorTick:{show:true, splitNumber:2, length:3.5, lineStyle:{color:axisCol, width:1}},
    splitLine:{show:false}, minorSplitLine:{show:false},
    axisLabel:{show:p.row===6, fontFamily:FONT, fontSize:21, color:'#111', margin:5}});
  option.yAxis.push({gridIndex:i, type:'value', min:0, max:8.9, interval:2, z:5,
    axisLine:{onZero:false, lineStyle:{color:axisCol, width:1.2}},
    axisTick:{inside:true, length:6, lineStyle:{color:axisCol, width:1}},
    minorTick:{show:true, splitNumber:2, length:3.5, lineStyle:{color:axisCol, width:1}},
    splitLine:{show:false}, minorSplitLine:{show:false},
    axisLabel:{show:p.col===0, showMaxLabel:false, fontFamily:FONT, fontSize:21, color:'#111', margin:6}});
  const col = k => p.data.map(r => [r[0], r[k]]);
  const base = {type:'line', xAxisIndex:i, yAxisIndex:i, symbol:'none', silent:true, clip:true, animation:false};
  option.series.push(Object.assign({}, base, {name:'Total', data:col(1), z:1,
    lineStyle:{color:COLORS.totalEdge, width:1}, itemStyle:{color:COLORS.total},
    areaStyle:{color:COLORS.total, opacity:1}}));
  option.series.push(Object.assign({}, base, {name:p.d, data:col(2), z:2,
    lineStyle:{color:COLORS.d, width:1.3}, itemStyle:{color:COLORS.d}}));
  option.series.push(Object.assign({}, base, {name:'C-2p', data:col(3), z:3,
    lineStyle:{color:COLORS.c, width:1.3}, itemStyle:{color:COLORS.c}}));
  option.series.push(Object.assign({}, base, {name:p.x, data:col(4), z:4,
    lineStyle:{color:COLORS.x, width:1.3}, itemStyle:{color:COLORS.x}}));
  option.title.push({text:p.title, left:p.tl[0], top:p.tl[1], padding:0, z:6,
    textStyle:{fontFamily:FONT, fontSize:34, fontWeight:'normal', color:'#111', lineHeight:48,
      rich:{s:{fontFamily:FONT, fontSize:21, lineHeight:22, verticalAlign:'bottom', color:'#111'}}}});
  option.legend.push({
    data:[{name:'Total', icon:'rect', itemStyle:{color:COLORS.total, borderWidth:0}},
          {name:p.d, icon:LINE_ICON, itemStyle:{color:COLORS.d, borderWidth:0}},
          {name:'C-2p', icon:LINE_ICON, itemStyle:{color:COLORS.c, borderWidth:0}},
          {name:p.x, icon:LINE_ICON, itemStyle:{color:COLORS.x, borderWidth:0}}],
    orient:'vertical', left:p.lg[0], top:p.lg[1], padding:0, itemWidth:50, itemHeight:18, itemGap:6.8,
    selectedMode:false, z:6, symbolKeepAspect:true,
    formatter: n => n.replace(/(\d)([dp])$/, '$1{i|$2}'),
    textStyle:{fontFamily:FONT, fontSize:21, color:'#111', lineHeight:18,
      rich:{i:{fontFamily:FONT, fontSize:21, fontStyle:'italic', color:'#111', lineHeight:18}}}
  });
});
option.graphic = [
  {type:'text', x:22, y:588, rotation:Math.PI/2, style:{text:'Density of States (states/eV)', fontFamily:FONT, fontSize:30, fill:'#111', align:'center', verticalAlign:'middle'}},
  {type:'text', x:337, y:1279, style:{text:'Energy (eV)', fontFamily:FONT, fontSize:29, fill:'#111', align:'center', verticalAlign:'middle'}},
  {type:'text', x:905, y:1279, style:{text:'Energy (eV)', fontFamily:FONT, fontSize:29, fill:'#111', align:'center', verticalAlign:'middle'}}
];
const chart = echarts.init(document.getElementById('c'), null, {renderer:'canvas', width:1182, height:1294});
chart.setOption(option);
</script>
</body></html>
